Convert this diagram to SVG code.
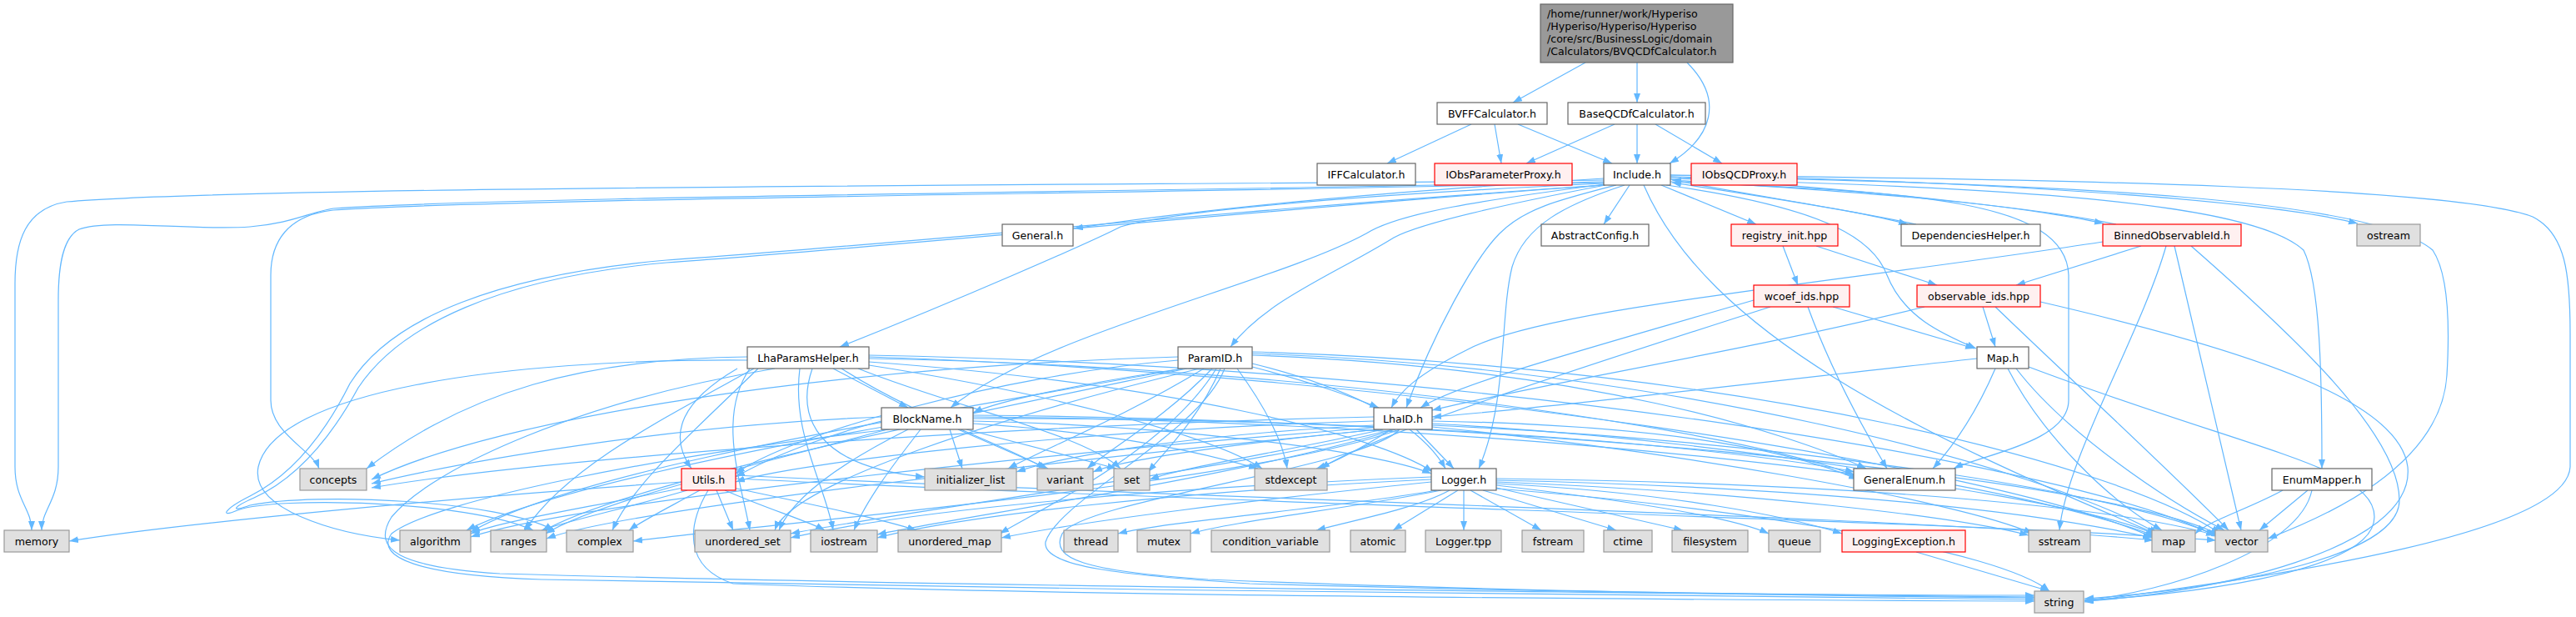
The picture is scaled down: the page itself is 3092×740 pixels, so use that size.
<svg xmlns="http://www.w3.org/2000/svg" width="3092" height="740" viewBox="0 0 3092 740">
<style>
.e{fill:none;stroke:#63b8ff;stroke-width:1.2}
.w{fill:#ffffff;stroke:#666666;stroke-width:1.2}
.g{fill:#e0e0e0;stroke:#999999;stroke-width:1.2}
.r{fill:#fff0f0;stroke:#ff0000;stroke-width:1.2}
.root{fill:#999999;stroke:#666666;stroke-width:1.2}
text{font-family:"DejaVu Sans","Liberation Sans",sans-serif;font-size:12.6px;fill:#000000;text-anchor:middle}
.l{text-anchor:start}
</style>
<defs>
<marker id="a" markerWidth="12" markerHeight="9" refX="11" refY="4" orient="auto" markerUnits="userSpaceOnUse"><path d="M0,0 L11,4 L0,8z" fill="#63b8ff"/></marker>
</defs>
<g id="connectors">
<path class="e" marker-end="url(#a)" d="M1903,75 L1816,123"/>
<path class="e" marker-end="url(#a)" d="M1965,75 L1965,123"/>
<path class="e" marker-end="url(#a)" d="M2025,75 C2070,120 2055,165 2004,196"/>
<path class="e" marker-end="url(#a)" d="M1766,149 L1665,196"/>
<path class="e" marker-end="url(#a)" d="M1794,149 L1802,196"/>
<path class="e" marker-end="url(#a)" d="M1822,149 L1935,196"/>
<path class="e" marker-end="url(#a)" d="M1938,149 L1832,196"/>
<path class="e" marker-end="url(#a)" d="M1965,149 L1965,196"/>
<path class="e" marker-end="url(#a)" d="M1987,149 L2067,196"/>
<path class="e" marker-end="url(#a)" d="M1925,216 C1500,222 300,222 80,242 C30,250 18,290 18,340 L18,560 C18,600 38,610 38,636"/>
<path class="e" marker-end="url(#a)" d="M1925,218 C1400,230 600,236 400,250 C370,255 350,268 300,272 C230,277 130,262 95,275 C75,285 70,320 70,360 L70,560 C70,600 50,612 50,636"/>
<path class="e" marker-end="url(#a)" d="M1925,219 C1400,232 600,238 400,252 C345,258 325,290 325,330 L325,480 C325,520 375,540 383,562"/>
<path class="e" marker-end="url(#a)" d="M1925,214 C1700,228 1480,245 1289,274"/>
<path class="e" marker-end="url(#a)" d="M1925,220 C1600,235 1400,255 1345,272 C1310,290 1150,360 1008,416"/>
<path class="e" marker-end="url(#a)" d="M1926,221 C1780,240 1680,255 1640,280 C1530,340 1250,400 1141,489"/>
<path class="e" marker-end="url(#a)" d="M1927,222 C1780,250 1700,270 1673,285 C1600,330 1520,360 1477,416"/>
<path class="e" marker-end="url(#a)" d="M1925,222 C1500,250 1050,295 800,312 C600,330 470,380 420,460 C390,520 350,570 300,595 C270,610 262,622 285,612 C330,595 560,600 640,636"/>
<path class="e" marker-end="url(#a)" d="M1925,222 C1500,252 1050,298 800,315 C600,333 480,390 430,465 C400,520 360,572 305,597 C280,608 275,615 300,606 C380,590 600,600 665,636"/>
<path class="e" marker-end="url(#a)" d="M1940,222 C1870,240 1830,250 1800,280 C1770,310 1720,400 1688,489"/>
<path class="e" marker-end="url(#a)" d="M1950,222 C1880,245 1830,270 1815,320 C1800,380 1810,480 1775,562"/>
<path class="e" marker-end="url(#a)" d="M1956,222 L1925,269"/>
<path class="e" marker-end="url(#a)" d="M1994,222 L2108,269"/>
<path class="e" marker-end="url(#a)" d="M2005,215 C2100,235 2220,250 2290,269"/>
<path class="e" marker-end="url(#a)" d="M2005,212 C2200,225 2420,245 2525,268"/>
<path class="e" marker-end="url(#a)" d="M2005,210 C2300,215 2700,235 2830,268"/>
<path class="e" marker-end="url(#a)" d="M2000,222 C2200,250 2250,290 2265,330 C2285,380 2330,400 2372,418"/>
<path class="e" marker-end="url(#a)" d="M2005,218 C2300,230 2480,240 2483,330 L2483,480 C2483,530 2380,545 2345,562"/>
<path class="e" marker-end="url(#a)" d="M2005,214 C2400,225 2700,240 2765,300 C2785,340 2787,450 2787,562"/>
<path class="e" marker-end="url(#a)" d="M2005,212 C2500,220 2850,240 2920,300 C2940,330 2940,400 2937,450 C2930,560 2790,620 2722,646"/>
<path class="e" marker-end="url(#a)" d="M2005,210 C2500,215 2950,225 3040,260 C3080,280 3085,330 3085,400 L3085,560 C3080,650 2650,700 2502,722"/>
<path class="e" marker-end="url(#a)" d="M1973,222 C2050,400 2300,520 2588,640"/>
<path class="e" marker-end="url(#a)" d="M2300,269 C2200,248 2080,230 2007,219"/>
<path class="e" marker-end="url(#a)" d="M2540,269 C2400,240 2150,225 2007,216"/>
<path class="e" marker-end="url(#a)" d="M2140,295 L2158,342"/>
<path class="e" marker-end="url(#a)" d="M2180,295 L2325,342"/>
<path class="e" marker-end="url(#a)" d="M2570,295 L2420,342"/>
<path class="e" marker-end="url(#a)" d="M2524,290 C2200,340 1850,370 1760,420 C1700,450 1680,470 1670,489"/>
<path class="e" marker-end="url(#a)" d="M2600,295 C2570,400 2480,550 2472,636"/>
<path class="e" marker-end="url(#a)" d="M2610,295 L2690,636"/>
<path class="e" marker-end="url(#a)" d="M2630,295 C2750,400 2880,520 2880,600 C2880,680 2600,712 2502,718"/>
<path class="e" marker-end="url(#a)" d="M2380,368 L2395,416"/>
<path class="e" marker-end="url(#a)" d="M2310,368 C2100,420 1850,460 1719,492"/>
<path class="e" marker-end="url(#a)" d="M2395,368 C2480,450 2600,560 2675,636"/>
<path class="e" marker-end="url(#a)" d="M2449,362 C2700,420 2880,480 2890,560 C2900,660 2650,712 2502,721"/>
<path class="e" marker-end="url(#a)" d="M2200,368 L2370,418"/>
<path class="e" marker-end="url(#a)" d="M2105,360 C1900,420 1750,460 1705,489"/>
<path class="e" marker-end="url(#a)" d="M2125,368 C1900,440 1650,520 1585,562"/>
<path class="e" marker-end="url(#a)" d="M2170,368 C2200,450 2240,520 2265,562"/>
<path class="e" marker-end="url(#a)" d="M2373,430 C2100,460 1850,490 1719,500"/>
<path class="e" marker-end="url(#a)" d="M2395,442 C2370,500 2340,540 2320,562"/>
<path class="e" marker-end="url(#a)" d="M2410,442 C2450,520 2530,600 2595,636"/>
<path class="e" marker-end="url(#a)" d="M2420,442 C2480,520 2600,600 2670,636"/>
<path class="e" marker-end="url(#a)" d="M2435,440 C2700,540 2850,560 2850,620 C2850,690 2600,715 2502,720"/>
<path class="e" marker-end="url(#a)" d="M1000,442 L1090,489"/>
<path class="e" marker-end="url(#a)" d="M885,442 C820,480 800,520 830,562"/>
<path class="e" marker-end="url(#a)" d="M897,428 C700,430 560,470 440,562"/>
<path class="e" marker-end="url(#a)" d="M897,432 C600,430 330,470 310,560 C300,610 400,640 480,648"/>
<path class="e" marker-end="url(#a)" d="M905,442 C800,500 680,560 630,636"/>
<path class="e" marker-end="url(#a)" d="M910,442 C830,520 760,580 735,636"/>
<path class="e" marker-end="url(#a)" d="M975,442 C955,500 980,560 1110,572"/>
<path class="e" marker-end="url(#a)" d="M1010,442 C1100,500 1200,530 1255,562"/>
<path class="e" marker-end="url(#a)" d="M1030,442 C1150,490 1300,520 1345,562"/>
<path class="e" marker-end="url(#a)" d="M1043,438 C1250,470 1450,520 1515,562"/>
<path class="e" marker-end="url(#a)" d="M960,442 C950,520 990,580 1000,636"/>
<path class="e" marker-end="url(#a)" d="M900,442 C860,500 890,580 900,636"/>
<path class="e" marker-end="url(#a)" d="M1043,434 C1400,460 1650,520 1720,566"/>
<path class="e" marker-end="url(#a)" d="M1043,430 C1600,440 2100,520 2226,570"/>
<path class="e" marker-end="url(#a)" d="M1043,428 C1700,450 2400,560 2585,645"/>
<path class="e" marker-end="url(#a)" d="M1043,426 C1800,440 2500,560 2660,643"/>
<path class="e" marker-end="url(#a)" d="M930,442 C700,480 520,560 470,620 C445,660 480,680 600,688 C1200,705 2100,712 2442,716"/>
<path class="e" marker-end="url(#a)" d="M1414,428 C1000,440 600,500 446,575"/>
<path class="e" marker-end="url(#a)" d="M1414,432 C1200,450 950,520 883,568"/>
<path class="e" marker-end="url(#a)" d="M1420,442 C1300,460 1200,480 1168,495"/>
<path class="e" marker-end="url(#a)" d="M1503,440 C1580,460 1620,475 1655,489"/>
<path class="e" marker-end="url(#a)" d="M1445,442 C1350,500 1250,540 1210,562"/>
<path class="e" marker-end="url(#a)" d="M1455,442 C1400,500 1330,540 1305,562"/>
<path class="e" marker-end="url(#a)" d="M1465,442 C1440,500 1400,540 1378,566"/>
<path class="e" marker-end="url(#a)" d="M1485,442 C1520,490 1540,530 1545,562"/>
<path class="e" marker-end="url(#a)" d="M1503,436 C1600,460 1700,500 1735,562"/>
<path class="e" marker-end="url(#a)" d="M1440,442 C1200,500 950,580 930,636"/>
<path class="e" marker-end="url(#a)" d="M1503,426 C1900,440 2150,520 2240,562"/>
<path class="e" marker-end="url(#a)" d="M1503,424 C2000,440 2450,560 2590,640"/>
<path class="e" marker-end="url(#a)" d="M1503,422 C2100,440 2550,560 2665,640"/>
<path class="e" marker-end="url(#a)" d="M1470,442 C1440,520 1270,600 1255,650 C1250,680 1350,690 1500,700 C1900,712 2300,714 2442,714"/>
<path class="e" marker-end="url(#a)" d="M1420,442 C1100,500 700,560 565,638"/>
<path class="e" marker-end="url(#a)" d="M1425,442 C1100,510 750,580 650,638"/>
<path class="e" marker-end="url(#a)" d="M1460,442 C1400,540 1250,610 1200,640"/>
<path class="e" marker-end="url(#a)" d="M1058,500 C800,510 550,555 446,580"/>
<path class="e" marker-end="url(#a)" d="M1058,505 C1000,520 930,545 883,572"/>
<path class="e" marker-end="url(#a)" d="M1140,515 L1155,562"/>
<path class="e" marker-end="url(#a)" d="M1150,515 L1258,562"/>
<path class="e" marker-end="url(#a)" d="M1160,515 L1340,562"/>
<path class="e" marker-end="url(#a)" d="M1168,508 C1350,520 1450,545 1510,562"/>
<path class="e" marker-end="url(#a)" d="M1168,505 C1400,510 1650,540 1718,568"/>
<path class="e" marker-end="url(#a)" d="M1168,502 C1700,500 2100,540 2226,566"/>
<path class="e" marker-end="url(#a)" d="M1105,515 C1070,560 1040,600 1025,636"/>
<path class="e" marker-end="url(#a)" d="M1090,515 C1000,560 950,600 935,636"/>
<path class="e" marker-end="url(#a)" d="M1060,512 C900,540 650,590 560,636"/>
<path class="e" marker-end="url(#a)" d="M1065,515 C900,560 720,600 655,640"/>
<path class="e" marker-end="url(#a)" d="M1168,500 C1800,505 2450,580 2590,642"/>
<path class="e" marker-end="url(#a)" d="M1168,498 C1900,505 2550,580 2665,642"/>
<path class="e" marker-end="url(#a)" d="M1068,515 C800,545 520,600 470,640 C450,668 500,690 650,695 C1200,708 2100,714 2442,719"/>
<path class="e" marker-end="url(#a)" d="M1649,500 C1200,510 650,550 446,585"/>
<path class="e" marker-end="url(#a)" d="M1649,505 C1300,515 950,555 883,578"/>
<path class="e" marker-end="url(#a)" d="M1649,510 C1450,520 1280,545 1220,566"/>
<path class="e" marker-end="url(#a)" d="M1655,515 C1500,530 1350,550 1312,566"/>
<path class="e" marker-end="url(#a)" d="M1660,515 C1550,540 1420,560 1380,575"/>
<path class="e" marker-end="url(#a)" d="M1670,515 C1630,540 1600,555 1580,562"/>
<path class="e" marker-end="url(#a)" d="M1700,515 L1745,562"/>
<path class="e" marker-end="url(#a)" d="M1719,505 C2000,510 2150,540 2230,575"/>
<path class="e" marker-end="url(#a)" d="M1719,508 C2100,530 2450,590 2590,644"/>
<path class="e" marker-end="url(#a)" d="M1719,510 C2150,530 2550,590 2665,644"/>
<path class="e" marker-end="url(#a)" d="M1680,515 C1640,560 1300,600 1275,640 C1260,670 1300,685 1450,695 C1800,710 2300,716 2442,717"/>
<path class="e" marker-end="url(#a)" d="M1719,512 C2000,540 2350,600 2440,640"/>
<path class="e" marker-end="url(#a)" d="M1660,512 C1300,540 700,600 565,644"/>
<path class="e" marker-end="url(#a)" d="M1665,514 C1300,550 750,610 656,646"/>
<path class="e" marker-end="url(#a)" d="M1672,515 C1500,560 1100,610 949,640"/>
<path class="e" marker-end="url(#a)" d="M1675,515 C1500,570 1150,620 1053,641"/>
<path class="e" marker-end="url(#a)" d="M1680,515 C1500,580 950,625 760,649"/>
<path class="e" marker-end="url(#a)" d="M818,578 C500,600 200,630 83,649"/>
<path class="e" marker-end="url(#a)" d="M820,585 C700,610 600,625 565,640"/>
<path class="e" marker-end="url(#a)" d="M825,588 C750,610 680,625 650,636"/>
<path class="e" marker-end="url(#a)" d="M840,588 C800,610 770,625 755,636"/>
<path class="e" marker-end="url(#a)" d="M860,588 L880,636"/>
<path class="e" marker-end="url(#a)" d="M870,588 C920,610 970,625 990,636"/>
<path class="e" marker-end="url(#a)" d="M880,585 C950,600 1050,620 1100,636"/>
<path class="e" marker-end="url(#a)" d="M883,570 C1500,600 2300,620 2585,648"/>
<path class="e" marker-end="url(#a)" d="M883,574 C1500,605 2350,625 2660,648"/>
<path class="e" marker-end="url(#a)" d="M850,588 C825,630 820,680 880,700 C1300,716 2200,720 2442,721"/>
<path class="e" marker-end="url(#a)" d="M1725,588 C1600,610 1400,625 1342,640"/>
<path class="e" marker-end="url(#a)" d="M1730,588 C1620,610 1480,625 1429,640"/>
<path class="e" marker-end="url(#a)" d="M1740,588 C1700,610 1620,625 1580,636"/>
<path class="e" marker-end="url(#a)" d="M1750,588 L1672,636"/>
<path class="e" marker-end="url(#a)" d="M1757,588 L1757,636"/>
<path class="e" marker-end="url(#a)" d="M1765,588 L1850,636"/>
<path class="e" marker-end="url(#a)" d="M1780,588 L1940,636"/>
<path class="e" marker-end="url(#a)" d="M1796,585 L2020,636"/>
<path class="e" marker-end="url(#a)" d="M1796,582 C1950,600 2080,620 2123,640"/>
<path class="e" marker-end="url(#a)" d="M1796,580 C2000,590 2150,620 2211,640"/>
<path class="e" marker-end="url(#a)" d="M1796,578 C2100,590 2350,620 2435,642"/>
<path class="e" marker-end="url(#a)" d="M1796,576 C2200,585 2450,615 2583,645"/>
<path class="e" marker-end="url(#a)" d="M1796,574 C2250,580 2550,610 2659,642"/>
<path class="e" marker-end="url(#a)" d="M1796,586 C2100,610 2400,660 2460,709"/>
<path class="e" marker-end="url(#a)" d="M1718,575 C1400,590 1150,620 1053,645"/>
<path class="e" marker-end="url(#a)" d="M1718,578 C1500,600 1300,625 1202,645"/>
<path class="e" marker-end="url(#a)" d="M1718,572 C1400,585 1100,610 949,645"/>
<path class="e" marker-end="url(#a)" d="M2300,662 L2460,709"/>
<path class="e" marker-end="url(#a)" d="M2740,588 C2700,610 2650,625 2635,640"/>
<path class="e" marker-end="url(#a)" d="M2770,588 L2712,636"/>
<path class="e" marker-end="url(#a)" d="M2775,588 C2760,660 2600,710 2502,720"/>
</g>
<g id="root"><rect class="root" x="1849" y="5" width="231" height="70"/>
<text class="l" x="1857" y="21">/home/runner/work/Hyperiso</text>
<text class="l" x="1857" y="36">/Hyperiso/Hyperiso/Hyperiso</text>
<text class="l" x="1857" y="51">/core/src/BusinessLogic/domain</text>
<text class="l" x="1857" y="66">/Calculators/BVQCDfCalculator.h</text></g>
<g id="BVFFCalculator"><rect class="w" x="1725" y="123" width="132" height="26"/><text x="1791" y="140.5">BVFFCalculator.h</text></g>
<g id="BaseQCDfCalculator"><rect class="w" x="1882" y="123" width="165" height="26"/><text x="1964.5" y="140.5">BaseQCDfCalculator.h</text></g>
<g id="IFFCalculator"><rect class="w" x="1581" y="196" width="118" height="26"/><text x="1640" y="213.5">IFFCalculator.h</text></g>
<g id="IObsParameterProxy"><rect class="r" x="1722" y="196" width="165" height="26"/><text x="1804.5" y="213.5">IObsParameterProxy.h</text></g>
<g id="Include"><rect class="w" x="1925" y="196" width="80" height="26"/><text x="1965" y="213.5">Include.h</text></g>
<g id="IObsQCDProxy"><rect class="r" x="2030" y="196" width="127" height="26"/><text x="2093.5" y="213.5">IObsQCDProxy.h</text></g>
<g id="General"><rect class="w" x="1203" y="269" width="85" height="26"/><text x="1245.5" y="286.5">General.h</text></g>
<g id="AbstractConfig"><rect class="w" x="1850" y="269" width="129" height="26"/><text x="1914.5" y="286.5">AbstractConfig.h</text></g>
<g id="registry_init"><rect class="r" x="2078" y="269" width="128" height="26"/><text x="2142" y="286.5">registry_init.hpp</text></g>
<g id="DependenciesHelper"><rect class="w" x="2282" y="269" width="167" height="26"/><text x="2365.5" y="286.5">DependenciesHelper.h</text></g>
<g id="BinnedObservableId"><rect class="r" x="2524" y="269" width="166" height="26"/><text x="2607" y="286.5">BinnedObservableId.h</text></g>
<g id="ostream"><rect class="g" x="2829" y="269" width="76" height="26"/><text x="2867" y="286.5">ostream</text></g>
<g id="wcoef_ids"><rect class="r" x="2105" y="342" width="115" height="26"/><text x="2162.5" y="359.5">wcoef_ids.hpp</text></g>
<g id="observable_ids"><rect class="r" x="2301" y="342" width="148" height="26"/><text x="2375" y="359.5">observable_ids.hpp</text></g>
<g id="LhaParamsHelper"><rect class="w" x="897" y="416" width="146" height="26"/><text x="970" y="433.5">LhaParamsHelper.h</text></g>
<g id="ParamID"><rect class="w" x="1414" y="416" width="89" height="26"/><text x="1458.5" y="433.5">ParamID.h</text></g>
<g id="Map"><rect class="w" x="2373" y="416" width="62" height="26"/><text x="2404" y="433.5">Map.h</text></g>
<g id="BlockName"><rect class="w" x="1058" y="489" width="110" height="26"/><text x="1113" y="506.5">BlockName.h</text></g>
<g id="LhaID"><rect class="w" x="1649" y="489" width="70" height="26"/><text x="1684" y="506.5">LhaID.h</text></g>
<g id="concepts"><rect class="g" x="360" y="562" width="80" height="26"/><text x="400" y="579.5">concepts</text></g>
<g id="Utils"><rect class="r" x="818" y="562" width="65" height="26"/><text x="850.5" y="579.5">Utils.h</text></g>
<g id="initializer_list"><rect class="g" x="1110" y="562" width="110" height="26"/><text x="1165" y="579.5">initializer_list</text></g>
<g id="variant"><rect class="g" x="1245" y="562" width="67" height="26"/><text x="1278.5" y="579.5">variant</text></g>
<g id="set"><rect class="g" x="1337" y="562" width="43" height="26"/><text x="1358.5" y="579.5">set</text></g>
<g id="stdexcept"><rect class="g" x="1506" y="562" width="87" height="26"/><text x="1549.5" y="579.5">stdexcept</text></g>
<g id="Logger"><rect class="w" x="1718" y="562" width="78" height="26"/><text x="1757" y="579.5">Logger.h</text></g>
<g id="GeneralEnum"><rect class="w" x="2225" y="562" width="122" height="26"/><text x="2286" y="579.5">GeneralEnum.h</text></g>
<g id="EnumMapper"><rect class="w" x="2727" y="562" width="120" height="26"/><text x="2787" y="579.5">EnumMapper.h</text></g>
<g id="memory"><rect class="g" x="5" y="636" width="78" height="26"/><text x="44" y="653.5">memory</text></g>
<g id="algorithm"><rect class="g" x="480" y="636" width="85" height="26"/><text x="522.5" y="653.5">algorithm</text></g>
<g id="ranges"><rect class="g" x="589" y="636" width="67" height="26"/><text x="622.5" y="653.5">ranges</text></g>
<g id="complex"><rect class="g" x="680" y="636" width="80" height="26"/><text x="720" y="653.5">complex</text></g>
<g id="unordered_set"><rect class="g" x="834" y="636" width="115" height="26"/><text x="891.5" y="653.5">unordered_set</text></g>
<g id="iostream"><rect class="g" x="973" y="636" width="80" height="26"/><text x="1013" y="653.5">iostream</text></g>
<g id="unordered_map"><rect class="g" x="1078" y="636" width="124" height="26"/><text x="1140" y="653.5">unordered_map</text></g>
<g id="thread"><rect class="g" x="1277" y="636" width="65" height="26"/><text x="1309.5" y="653.5">thread</text></g>
<g id="mutex"><rect class="g" x="1365" y="636" width="64" height="26"/><text x="1397" y="653.5">mutex</text></g>
<g id="condition_variable"><rect class="g" x="1454" y="636" width="142" height="26"/><text x="1525" y="653.5">condition_variable</text></g>
<g id="atomic"><rect class="g" x="1621" y="636" width="66" height="26"/><text x="1654" y="653.5">atomic</text></g>
<g id="Logger_tpp"><rect class="g" x="1711" y="636" width="91" height="26"/><text x="1756.5" y="653.5">Logger.tpp</text></g>
<g id="fstream"><rect class="g" x="1827" y="636" width="74" height="26"/><text x="1864" y="653.5">fstream</text></g>
<g id="ctime"><rect class="g" x="1925" y="636" width="58" height="26"/><text x="1954" y="653.5">ctime</text></g>
<g id="filesystem"><rect class="g" x="2007" y="636" width="91" height="26"/><text x="2052.5" y="653.5">filesystem</text></g>
<g id="queue"><rect class="g" x="2123" y="636" width="62" height="26"/><text x="2154" y="653.5">queue</text></g>
<g id="LoggingException"><rect class="r" x="2211" y="636" width="148" height="26"/><text x="2285" y="653.5">LoggingException.h</text></g>
<g id="sstream"><rect class="g" x="2435" y="636" width="74" height="26"/><text x="2472" y="653.5">sstream</text></g>
<g id="map"><rect class="g" x="2583" y="636" width="52" height="26"/><text x="2609" y="653.5">map</text></g>
<g id="vector"><rect class="g" x="2659" y="636" width="63" height="26"/><text x="2690.5" y="653.5">vector</text></g>
<g id="string"><rect class="g" x="2442" y="709" width="59" height="26"/><text x="2471.5" y="726.5">string</text></g>
</svg>
